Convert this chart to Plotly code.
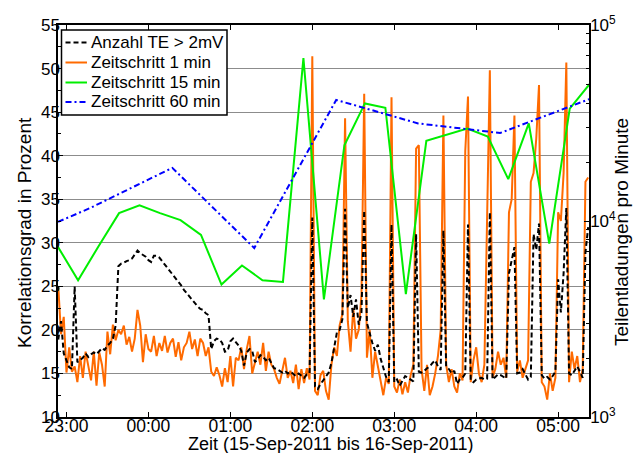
import pandas as pd
import plotly.graph_objects as go

BASE = pd.Timestamp("2011-09-15 23:00:00")

# 1-min / 2-min sampled series: minutes relative to 15-Sep-2011 23:00
minutes_fine = list(range(-6, 383, 2))

# Korrelationsgrad, Zeitschritt 1 min (percent)
corr_1min = [
    25.0, 19.5, 21.5, 15.1, 18.0, 15.2, 15.8, 14.0, 17.0, 14.5,
    17.5, 16.0, 14.2, 17.5, 13.6, 17.4, 16.0, 13.5, 19.8, 17.2,
    20.6, 18.8, 20.0, 19.5, 20.5, 18.3, 19.2, 17.5, 19.0, 22.3,
    20.5, 16.3, 19.5, 17.8, 17.5, 19.3, 17.0, 18.5, 17.6, 19.3,
    17.4, 18.5, 19.0, 16.9, 18.6, 16.5, 18.0, 18.5, 19.8, 17.8,
    18.9, 17.0, 19.0, 18.5, 17.0, 18.0, 15.2, 14.7, 15.7, 14.8,
    13.5, 15.6, 14.0, 17.0, 13.5, 16.8, 16.5, 18.0, 15.5, 17.8,
    19.3, 15.0, 16.3, 17.5, 16.0, 18.5, 15.3, 17.5, 16.0, 15.5,
    14.5, 13.8, 15.3, 16.8, 14.5, 15.3, 13.9, 16.0, 13.2, 15.5,
    13.9, 15.6, 14.3, 51.4, 13.0, 12.5, 14.8, 15.3, 13.0, 12.0,
    16.0, 18.0, 17.0, 20.5, 21.8, 44.3, 21.0, 17.5, 22.5, 19.0,
    20.0, 24.0, 47.1, 16.8, 20.0, 14.5, 17.5, 15.8, 14.0, 12.5,
    14.5, 13.8, 46.7, 13.5, 12.8, 14.3, 12.6, 14.0, 12.8, 14.8,
    16.0, 40.8, 41.2, 15.5, 13.0, 16.0, 12.5, 13.5, 15.0, 17.0,
    20.0, 44.6, 16.0, 14.0, 15.5, 13.5, 12.8, 15.0, 14.2, 40.5,
    46.8, 14.0, 16.5, 18.0, 15.0, 14.0, 16.0, 35.0, 49.8, 14.5,
    15.5, 17.5, 16.0, 16.8, 14.5, 33.5, 35.0, 44.6, 15.2, 16.5,
    14.5, 15.5, 16.5, 37.0, 38.0, 42.0, 48.1, 14.0, 13.5, 12.0,
    15.0, 13.0, 14.5, 33.5, 32.5, 38.0, 50.7, 14.0, 17.5, 15.5,
    17.0, 14.0, 15.5, 37.0, 37.5,
]

# Anzahl TE > 2mV (Teilentladungen pro Minute)
te_count = [
    2486, 3083, 2111, 1965, 1792, 1756, 4642, 1905, 1945, 2006,
    2111, 2026, 2089, 2133, 2089, 2154, 2244, 2199, 2314, 2386,
    2512, 2929, 5873, 6058, 6120, 6246, 6310, 6440, 6709, 7061,
    6848, 6709, 6573, 6310, 6183, 6640, 6640, 6506, 6246, 6058,
    5754, 5580, 5301, 5089, 4936, 4690, 4456, 4277, 4148, 3981,
    3783, 3668, 3557, 3521, 3380, 3311, 2222, 2436, 2512, 2486,
    2386, 2154, 2177, 2436, 2512, 2411, 2314, 2177, 1829, 2133,
    2222, 2177, 1905, 1965, 2068, 2026, 1945, 2006, 1887, 1774,
    1756, 1720, 1686, 1720, 1668, 1703, 1651, 1618, 1668, 1634,
    1585, 1651, 1668, 10418, 1431, 1388, 1475, 1537, 1618, 1686,
    1887, 2222, 2698, 2783, 3146, 11540, 3594, 4191, 3244, 3981,
    2959, 3415, 11305, 3020, 2671, 2386, 2177, 2338, 1985, 1756,
    1601, 1506, 9600, 1506, 1553, 1445, 1521, 1618, 1585, 1553,
    1521, 8577, 1703, 1686, 1720, 1774, 1811, 1887, 1945, 1811,
    1738, 8937, 1811, 1756, 1668, 1720, 1475, 1553, 1585, 1668,
    9600, 1537, 1506, 1553, 1569, 1585, 1553, 1569, 11076, 1553,
    1601, 1651, 1634, 1601, 1569, 5412, 6310, 7356, 1668, 1686,
    1756, 1651, 1553, 1601, 8577, 7133, 9698, 1634, 1569, 1601,
    1553, 1618, 1703, 5038, 3415, 5412, 11659, 1668, 1634, 1720,
    1811, 1703, 1585, 6918, 9310,
]

# Zeitschritt 15 min
minutes_15 = [-6.5, 8.5, 23.5, 38.5, 53.5, 68.5, 83.5, 98.5, 113.5, 128.5,
              143.5, 158.5, 173.5, 188.5, 203.5, 218.5, 233.5, 248.5, 263.5,
              278.5, 293.5, 308.5, 323.5, 338.5, 353.5, 368.5, 383.5]
corr_15min = [29.6, 25.7, 29.6, 33.4, 34.3, 33.4, 32.6, 30.9, 25.2, 27.4,
              25.7, 25.5, 51.2, 23.5, 41.2, 46.0, 45.5, 24.1, 41.7,
              42.4, 43.1, 42.2, 37.3, 43.7, 29.9, 45.4, 48.3]

# Zeitschritt 60 min
minutes_60 = [-6.2, 17.5, 77.5, 137.5, 197.5, 257.5, 317.5, 383.0]
corr_60min = [32.4, 34.0, 38.6, 29.4, 46.4, 43.7, 42.6, 46.5]

x_ticks_min = [0, 60, 120, 180, 240, 300, 360]

legend_labels = ["Anzahl TE > 2mV", "Zeitschritt 1 min", "Zeitschritt 15 min", "Zeitschritt 60 min"]
x_title = "Zeit (15-Sep-2011 bis 16-Sep-2011)"
y_title = "Korrelationsgrad in Prozent"
y2_title = "Teilentladungen pro Minute"


def to_time(mins):
    return BASE + pd.to_timedelta(mins, unit="min")


FONT = "Liberation Sans, Arial, sans-serif"
C_ORANGE, C_GREEN, C_BLUE, C_BLACK = "#FF6A00", "#00EE00", "#0000FF", "#000000"
DASH_BLACK, DASH_BLUE = "5px,3px", "6px,3px,2px,3px"

fig = go.Figure()
fig.add_trace(go.Scatter(x=to_time(minutes_fine), y=corr_1min, mode="lines",
                         name=legend_labels[1], line=dict(color=C_ORANGE, width=2)))
fig.add_trace(go.Scatter(x=to_time(minutes_15), y=corr_15min, mode="lines",
                         name=legend_labels[2], line=dict(color=C_GREEN, width=2)))
fig.add_trace(go.Scatter(x=to_time(minutes_60), y=corr_60min, mode="lines",
                         name=legend_labels[3], line=dict(color=C_BLUE, width=2, dash=DASH_BLUE)))
fig.add_trace(go.Scatter(x=to_time(minutes_fine), y=te_count, mode="lines",
                         name=legend_labels[0], yaxis="y2",
                         line=dict(color=C_BLACK, width=2, dash=DASH_BLACK)))

minor_log = [k * 10 ** e for e in (3, 4) for k in range(2, 10)]

# plot area in pixels: x 58..589, y 25..417
L_M, R_M, T_M, B_M = 58, 47, 25, 36
W, H = 636, 453
PW, PH = W - L_M - R_M, H - T_M - B_M


def px(xp):
    return (xp - L_M) / PW


def py(yp):
    return (H - B_M - yp) / PH


shapes = [dict(type="rect", xref="paper", yref="paper",
               x0=px(61.5), x1=px(227), y0=py(115), y1=py(30),
               fillcolor="white", line=dict(color="black", width=1.5), layer="above")]
annotations = []
row_y = [42.5, 62.5, 82.5, 102]
styles = [(C_BLACK, DASH_BLACK), (C_ORANGE, "solid"), (C_GREEN, "solid"), (C_BLUE, DASH_BLUE)]
for yy, (col, dash), lab in zip(row_y, styles, legend_labels):
    shapes.append(dict(type="line", xref="paper", yref="paper",
                       x0=px(65.5), x1=px(87), y0=py(yy), y1=py(yy),
                       line=dict(color=col, width=2, dash=dash), layer="above"))
    annotations.append(dict(text=lab, xref="paper", yref="paper", x=px(89), y=py(yy),
                            xanchor="left", yanchor="middle", showarrow=False,
                            font=dict(size=17, color="black")))

# axis titles
annotations.append(dict(text=x_title, xref="paper", yref="paper", x=px(331), y=py(444),
                        xanchor="center", yanchor="middle", showarrow=False,
                        font=dict(size=18, color="black")))
annotations.append(dict(text=y_title, xref="paper", yref="paper", x=px(25), y=py(233),
                        xanchor="center", yanchor="middle", showarrow=False, textangle=-90,
                        font=dict(size=19, color="black")))
annotations.append(dict(text=y2_title, xref="paper", yref="paper", x=px(621), y=py(232),
                        xanchor="center", yanchor="middle", showarrow=False, textangle=-90,
                        font=dict(size=19, color="black")))

fig.update_layout(
    width=W, height=H,
    margin=dict(l=L_M, r=R_M, t=T_M, b=B_M),
    paper_bgcolor="white", plot_bgcolor="white",
    font=dict(family=FONT, size=17, color="black"),
    showlegend=False,
    shapes=shapes, annotations=annotations,
    xaxis=dict(
        type="date", automargin=False,
        range=[to_time(-6.2), to_time(382.6)],
        tickvals=to_time(x_ticks_min), tickformat="%H:%M",
        ticks="inside", ticklen=5, tickcolor="black", ticklabelstandoff=-8,
        tickfont=dict(size=17.5),
        showline=True, linecolor="black", linewidth=1.5, mirror="ticks",
        showgrid=False, zeroline=False,
    ),
    yaxis=dict(
        range=[10, 55], dtick=5, tick0=10, automargin=False,
        ticks="inside", ticklen=5, tickcolor="black", ticklabelstandoff=-7,
        minor=dict(dtick=2.5, tick0=10, ticks="inside", ticklen=3, tickcolor="black", showgrid=False),
        showline=True, linecolor="black", linewidth=1.5,
        showgrid=True, gridcolor="#8c8c8c", gridwidth=1, zeroline=False,
    ),
    yaxis2=dict(
        type="log", range=[3, 5], overlaying="y", side="right", automargin=False,
        tickvals=[1000, 10000, 100000],
        ticktext=["10<sup>3</sup>", "10<sup>4</sup>", "10<sup>5</sup>"],
        ticks="inside", ticklen=5, tickcolor="black", ticklabelstandoff=-4,
        minor=dict(tickvals=minor_log, ticks="inside", ticklen=3, tickcolor="black", showgrid=False),
        showline=True, linecolor="black", linewidth=1.5,
        showgrid=False, zeroline=False,
    ),
)

fig.write_html("out.html", config={"displayModeBar": False},
               post_script="document.body.style.margin='0px';")
